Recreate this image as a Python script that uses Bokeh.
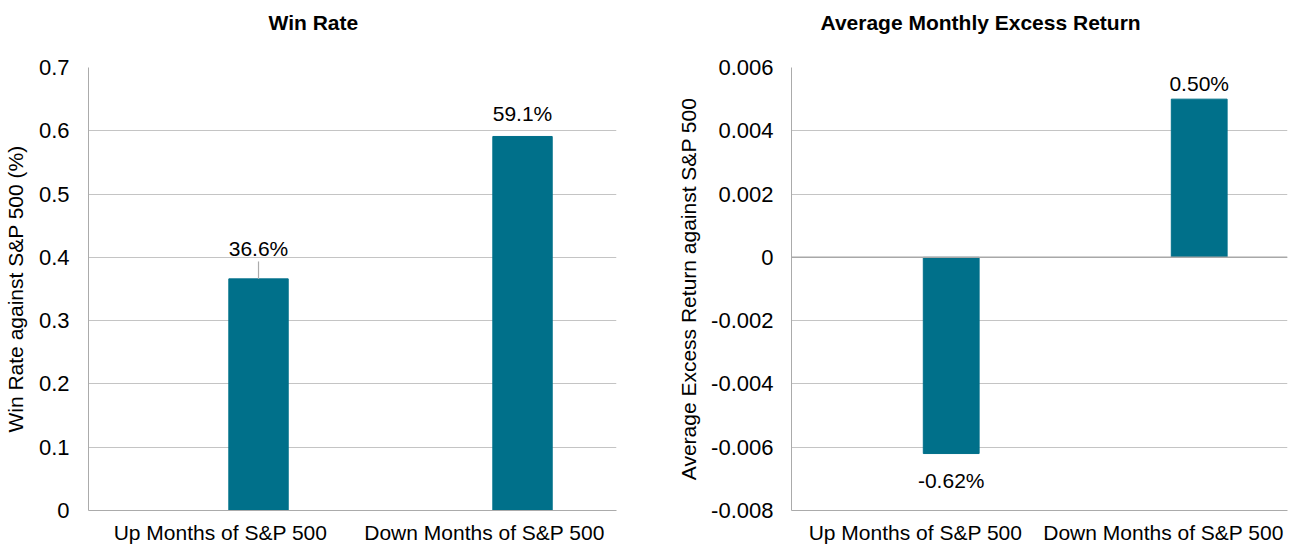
from bokeh.plotting import figure
from bokeh.layouts import row
from bokeh.models import ColumnDataSource, FactorRange, Range1d, FixedTicker, Title, Span
from bokeh.transform import dodge
from bokeh.core.properties import value
from bokeh.embed import file_html
from bokeh.resources import INLINE

# ---------------- data ----------------
categories = ["Up Months of S&P 500", "Down Months of S&P 500"]
win_rate = [0.366, 0.591]
win_rate_labels = ["36.6%", "59.1%"]
excess_return = [-0.0062, 0.0050]
excess_return_labels = ["-0.62%", "0.50%"]
left_ticks = [0, 0.1, 0.2, 0.3, 0.4, 0.5, 0.6, 0.7]
left_tick_labels = ["0", "0.1", "0.2", "0.3", "0.4", "0.5", "0.6", "0.7"]
right_ticks = [-0.008, -0.006, -0.004, -0.002, 0, 0.002, 0.004, 0.006]
right_tick_labels = ["-0.008", "-0.006", "-0.004", "-0.002", "0", "0.002", "0.004", "0.006"]

# ---------------- style ----------------
FONT = "Liberation Sans"
BAR = "#00708A"
GRID = "#C4C4C4"
AXIS = "#ABABAB"
FS = "21px"
TFS = "22px"
H = 546
TOP, BOTTOM = 67, 34
OFF = 0.144
BW = 0.225


def make_fig(width, left, right, ylo, yhi, ticks, tick_labels, ylabel, label_standoff,
             axis_label_standoff, title, title_offset):
    p = figure(width=width, height=H, x_range=FactorRange(*categories),
               y_range=Range1d(ylo, yhi), output_backend="svg", toolbar_location=None,
               min_border_left=left, min_border_right=right, min_border_top=TOP,
               min_border_bottom=BOTTOM)
    p.outline_line_color = None
    p.background_fill_color = "white"
    p.border_fill_color = "white"
    p.xgrid.grid_line_color = None
    p.ygrid.grid_line_color = GRID
    p.ygrid.grid_line_width = 1
    p.yaxis.ticker = FixedTicker(ticks=ticks)
    p.yaxis.major_label_overrides = {t: l for t, l in zip(ticks, tick_labels)}
    for ax in (p.xaxis[0], p.yaxis[0]):
        ax.axis_line_color = AXIS
        ax.axis_line_width = 1
        ax.major_tick_line_color = None
        ax.minor_tick_line_color = None
        ax.major_tick_out = 0
        ax.major_tick_in = 0
        ax.major_label_text_font = FONT
        ax.major_label_text_color = "#000000"
    p.xaxis.major_label_text_font_size = FS
    p.yaxis.major_label_text_font_size = TFS
    p.xaxis.major_label_standoff = 10
    p.yaxis.major_label_standoff = label_standoff
    p.yaxis.axis_label = ylabel
    p.yaxis.axis_label_text_font = FONT
    p.yaxis.axis_label_text_font_size = FS
    p.yaxis.axis_label_text_font_style = "normal"
    p.yaxis.axis_label_text_color = "#000000"
    p.yaxis.axis_label_standoff = axis_label_standoff
    # spacer (closest to the frame) pushes the real title further up
    p.add_layout(Title(text=" ", standoff=27, text_font=FONT, text_font_size="1px",
                       text_color="#FFFFFF"), "above")
    p.add_layout(Title(text=title, align="left", offset=title_offset, standoff=8,
                       text_font=FONT, text_font_size=FS,
                       text_font_style="bold", text_color="#000000"), "above")
    return p


def px_per_unit(ylo, yhi):
    return (H - TOP - BOTTOM) / (yhi - ylo)


# ---------------- left: Win Rate ----------------
p1 = make_fig(648, 88, 32, 0, 0.7, left_ticks, left_tick_labels,
              "Win Rate against S&P 500 (%)", 19, 9, "Win Rate", 180)
k1 = px_per_unit(0, 0.7)
src1 = ColumnDataSource(dict(cat=categories, val=win_rate, txt=win_rate_labels,
                             ly=[v + off / k1 for v, off in zip(win_rate, [31, 23])]))
p1.vbar(x=dodge("cat", OFF, range=p1.x_range), top="val", bottom=0, width=BW,
        source=src1, fill_color=BAR, line_color=BAR)
p1.text(x=dodge("cat", OFF, range=p1.x_range), y="ly", text="txt", source=src1,
        text_font=value(FONT), text_font_size=value(FS), text_align="center",
        text_baseline="middle", text_color="#000000")
lead = ColumnDataSource(dict(cat=[categories[0]], y0=[win_rate[0]], y1=[win_rate[0] + 17.5 / k1]))
p1.segment(x0=dodge("cat", OFF, range=p1.x_range), x1=dodge("cat", OFF, range=p1.x_range),
           y0="y0", y1="y1", source=lead, line_color=AXIS, line_width=1.2)

# ---------------- right: Average Monthly Excess Return ----------------
p2 = make_fig(649, 143, 10, -0.008, 0.006, right_ticks, right_tick_labels,
              "Average Excess Return against S&P 500", 18, 8,
              "Average Monthly Excess Return", 29)
k2 = px_per_unit(-0.008, 0.006)
src2 = ColumnDataSource(dict(cat=categories, val=excess_return, txt=excess_return_labels,
                             ly=[v + (16 / k2 if v > 0 else -27 / k2) for v in excess_return]))
p2.add_layout(Span(location=0, dimension="width", line_color="#A8A8A8", line_width=1.5))
p2.vbar(x=dodge("cat", OFF, range=p2.x_range), top="val", bottom=0, width=BW,
        source=src2, fill_color=BAR, line_color=BAR)
p2.text(x=dodge("cat", OFF, range=p2.x_range), y="ly", text="txt", source=src2,
        text_font=value(FONT), text_font_size=value(FS), text_align="center",
        text_baseline="middle", text_color="#000000")

layout = row(p1, p2)
open("out.html", "w").write(file_html(layout, INLINE))
